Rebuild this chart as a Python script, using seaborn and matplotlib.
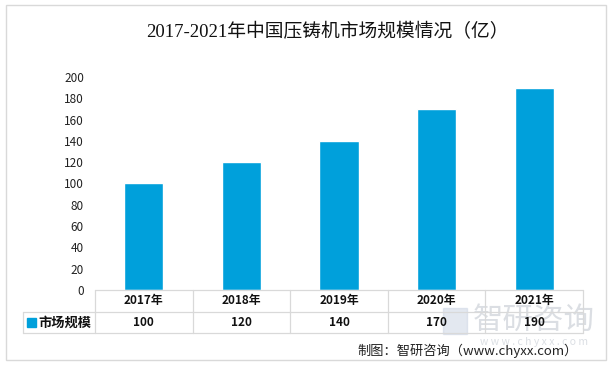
import matplotlib
matplotlib.use("Agg")
import pandas as pd
import seaborn as sns
import matplotlib.pyplot as plt
from matplotlib.patches import Rectangle
from matplotlib.lines import Line2D

# data
years = ["2017年", "2018年", "2019年", "2020年", "2021年"]
market_size = [100, 120, 140, 170, 190]
series_name = "市场规模"
title = "2017-2021年中国压铸机市场规模情况（亿）"
source = "制图：智研咨询（www.chyxx.com）"

sns.set_style("white")
plt.rcParams['font.family'] = ['Noto Sans CJK SC', 'DejaVu Sans']

df = pd.DataFrame({"year": years, "value": market_size})

W, H = 612, 365
fig = plt.figure(figsize=(W / 100, H / 100), dpi=100)

# px helpers (top-left origin)
def fx(px):
    return px / W

def fy(py):
    return 1 - py / H

left, right, top, bottom = 95, 583, 77, 290
ax = fig.add_axes([fx(left), fy(bottom), fx(right - left), (bottom - top) / H])

bar_color = "#00A0DB"
sns.barplot(data=df, x="year", y="value", color=bar_color, width=0.4,
            saturation=1, ax=ax)
ax.set_ylim(0, 200)
ax.set_yticks(range(0, 201, 20))
ax.set_xlim(-0.5, len(years) - 0.5)
ax.set_xticks([])
ax.set_xlabel("")
ax.set_ylabel("")
for s in ax.spines.values():
    s.set_visible(False)
ax.tick_params(axis="y", length=0, labelsize=8.5, pad=8, colors="#222222")

# outer border
fig.patches.append(Rectangle((fx(6), fy(360)), fx(600), (360 - 5) / H,
                             transform=fig.transFigure, fill=False,
                             edgecolor="#D9D9D9", linewidth=1))

# data table under the chart
grid = "#D9D9D9"
row1, row2, row3 = 290, 311.5, 333
lab_left = 23
col_w = (right - left) / len(years)

def hline(y, x0, x1):
    fig.lines.append(Line2D([fx(x0), fx(x1)], [fy(y), fy(y)],
                            transform=fig.transFigure, color=grid, lw=0.9))

def vline(x, y0, y1):
    fig.lines.append(Line2D([fx(x), fx(x)], [fy(y0), fy(y1)],
                            transform=fig.transFigure, color=grid, lw=0.9))

hline(row1, left, right)
hline(row2, lab_left, right)
hline(row3, lab_left, right)
vline(lab_left, row2, row3)
for i in range(len(years) + 1):
    vline(left + i * col_w, row1, row3)

for i, (yr, v) in enumerate(zip(years, market_size)):
    cx = left + (i + 0.5) * col_w
    fig.text(fx(cx), fy((row1 + row2) / 2), yr, ha="center", va="center",
             fontsize=8.5, fontweight="bold", color="#111111", zorder=5)
    fig.text(fx(cx), fy((row2 + row3) / 2), str(v), ha="center", va="center",
             fontsize=8.5, fontweight="bold", color="#111111", zorder=5)

fig.patches.append(Rectangle((fx(27), fy(327)), fx(9), 9 / H,
                             transform=fig.transFigure, color=bar_color))
fig.text(fx(38), fy((row2 + row3) / 2), series_name, ha="left", va="center",
         fontsize=9.5, fontweight="bold", color="#111111")

# watermark
wm = "#C3C9D1"
fig.text(fx(534), fy(320), "智研咨询", ha="center", va="center",
         fontsize=22, color=wm, alpha=0.6, zorder=1)
fig.text(fx(534), fy(342), "w w w . c h y x x . c o m", ha="center", va="center",
         fontsize=7.5, color=wm, alpha=0.6, zorder=1)
fig.patches.append(Rectangle((fx(443), fy(334)), fx(24), 26 / H,
                             transform=fig.transFigure, color="#C8D3E3",
                             alpha=0.5, zorder=1))

# title and source
fig.text(fx(327), fy(32), title, ha="center", va="center", fontsize=13.5,
         family=['Liberation Serif', 'Noto Sans CJK SC'], color="#111111")
fig.text(fx(578), fy(351), source, ha="right", va="center", fontsize=9.5,
         color="#222222", zorder=5)

fig.savefig("out.png", dpi=100)
